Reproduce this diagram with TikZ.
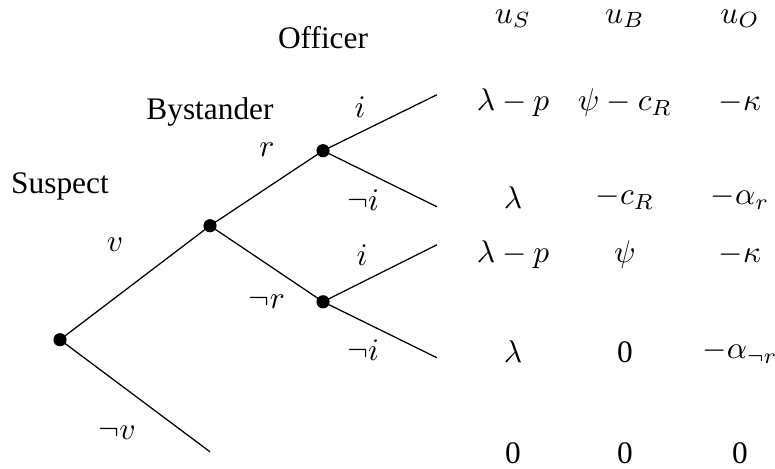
\documentclass[tikz,border=0pt]{standalone}
\usepackage{fontspec}
\setmainfont{Liberation Serif}
\usepackage{amssymb}

\tikzset{
    decision/.style={circle, fill=black, inner sep=0pt, minimum size=4.2pt},
    player/.style={inner sep=0pt},
    move/.style={inner sep=0pt},
    payoff/.style={inner sep=0pt}
}

\begin{document}
\begin{tikzpicture}[x=1cm, y=1cm]
    \useasboundingbox (0,0) rectangle (8.68,5.25);

    % Players
    \node[player] (suspect)   at (0.672, 3.158) {Suspect};
    \node[player] (bystander) at (2.352, 3.998) {Bystander};
    \node[player] (officer)   at (3.618, 4.827) {Officer};

    % Decision nodes
    \node[decision] (s)  at (0.672, 1.445) {};
    \node[decision] (b)  at (2.352, 2.722) {};
    \node[decision] (o1) at (3.618, 3.562) {};
    \node[decision] (o2) at (3.618, 1.870) {};

    % Terminal points
    \coordinate (t1) at (4.894, 4.189);
    \coordinate (t2) at (4.894, 2.934);
    \coordinate (t3) at (4.894, 2.509);
    \coordinate (t4) at (4.894, 1.243);
    \coordinate (t5) at (2.352, 0.190);

    % Branches
    \draw (s.center) -- (b.center);
    \draw (s.center) -- (t5);
    \draw (b.center) -- (o1.center);
    \draw (b.center) -- (o2.center);
    \draw (o1.center) -- (t1);
    \draw (o1.center) -- (t2);
    \draw (o2.center) -- (t3);
    \draw (o2.center) -- (t4);

    % Moves
    \node[move] (v)   at (1.288, 2.509) {$v$};
    \node[move] (nv)  at (1.310, 0.403) {$\neg v$};
    \node[move] (r)   at (2.990, 3.573) {$r$};
    \node[move] (nr)  at (2.990, 1.870) {$\neg r$};
    \node[move] (i1)  at (4.032, 4.054) {$i$};
    \node[move] (ni1) at (4.066, 3.013) {$\neg i$};
    \node[move] (i2)  at (4.054, 2.397) {$i$};
    \node[move] (ni2) at (4.066, 1.333) {$\neg i$};

    % Payoffs
    \node[payoff] (uS) at (5.746, 5.040) {$u_S$};
    \node[payoff] (uB) at (7.000, 5.040) {$u_B$};
    \node[payoff] (uO) at (8.288, 5.040) {$u_O$};

    \node[payoff] (p1S) at (5.746, 4.099) {$\lambda - p$};
    \node[payoff] (p1B) at (7.000, 4.099) {$\psi - c_R$};
    \node[payoff] (p1O) at (8.288, 4.099) {$-\kappa$};

    \node[payoff] (p2S) at (5.746, 3.035) {$\lambda$};
    \node[payoff] (p2B) at (7.000, 3.035) {$-c_R$};
    \node[payoff] (p2O) at (8.288, 3.035) {$-\alpha_r$};

    \node[payoff] (p3S) at (5.746, 2.397) {$\lambda - p$};
    \node[payoff] (p3B) at (7.000, 2.397) {$\psi$};
    \node[payoff] (p3O) at (8.288, 2.397) {$-\kappa$};

    \node[payoff] (p4S) at (5.746, 1.310) {$\lambda$};
    \node[payoff] (p4B) at (7.000, 1.310) {0};
    \node[payoff] (p4O) at (8.288, 1.310) {$-\alpha_{\neg r}$};

    \node[payoff] (p5S) at (5.746, 0.179) {0};
    \node[payoff] (p5B) at (7.000, 0.179) {0};
    \node[payoff] (p5O) at (8.288, 0.179) {0};
\end{tikzpicture}
\end{document}
